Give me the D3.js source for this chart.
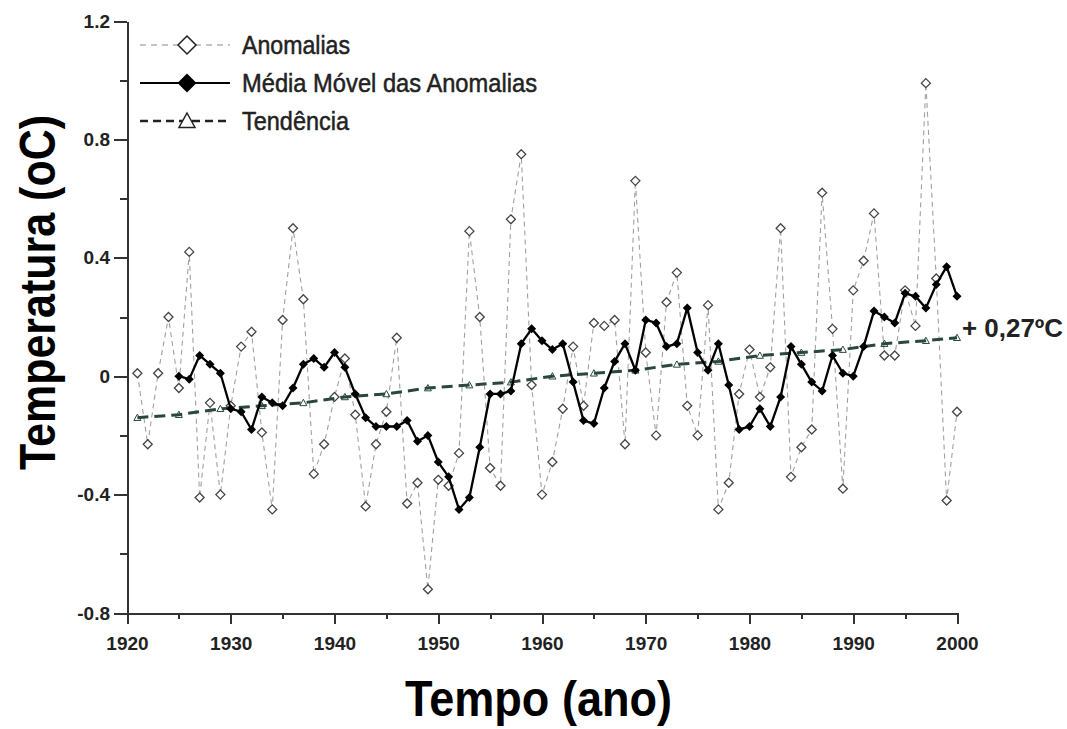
<!DOCTYPE html>
<html lang="pt">
<head>
<meta charset="utf-8">
<script src="https://cdn.jsdelivr.net/npm/d3@7"></script>
<style>
  html, body { margin: 0; padding: 0; background: #fff; }
  svg { display: block; font-family: "Liberation Sans", Arial, sans-serif; }
  .axis path, .axis line { stroke: #333; stroke-width: 2; shape-rendering: crispEdges; }
  .axis text { font-size: 19px; font-weight: bold; fill: #222; font-family: "Liberation Sans", Arial, sans-serif; }
</style>
</head>
<body>
<svg id="chart" width="1067" height="729"></svg>
<script>
// ─── Data ─────────────────────────────────────────────────────
const anomalyYears = d3.range(1921, 2001);
const anomalies = [
   0.01, -0.23,  0.01,  0.20, -0.04,  0.42, -0.41, -0.09, -0.40, -0.10, // 1921-1930
   0.10,  0.15, -0.19, -0.45,  0.19,  0.50,  0.26, -0.33, -0.23, -0.07, // 1931-1940
   0.06, -0.13, -0.44, -0.23, -0.12,  0.13, -0.43, -0.36, -0.72, -0.35, // 1941-1950
  -0.37, -0.26,  0.49,  0.20, -0.31, -0.37,  0.53,  0.75, -0.03, -0.40, // 1951-1960
  -0.29, -0.11,  0.10, -0.10,  0.18,  0.17,  0.19, -0.23,  0.66,  0.08, // 1961-1970
  -0.20,  0.25,  0.35, -0.10, -0.20,  0.24, -0.45, -0.36, -0.06,  0.09, // 1971-1980
  -0.07,  0.03,  0.50, -0.34, -0.24, -0.18,  0.62,  0.16, -0.38,  0.29, // 1981-1990
   0.39,  0.55,  0.07,  0.07,  0.29,  0.17,  0.99,  0.33, -0.42, -0.12  // 1991-2000
];

const movingYears = d3.range(1925, 2001);
const movingAvg = [
   0.00, -0.01,  0.07,  0.04,  0.01, -0.11,                             // 1925-1930
  -0.12, -0.18, -0.07, -0.09, -0.10, -0.04,  0.04,  0.06,  0.03,  0.08, // 1931-1940
   0.03, -0.06, -0.14, -0.17, -0.17, -0.17, -0.15, -0.22, -0.20, -0.29, // 1941-1950
  -0.34, -0.45, -0.41, -0.24, -0.06, -0.06, -0.05,  0.11,  0.16,  0.12, // 1951-1960
   0.09,  0.11, -0.02, -0.15, -0.16, -0.04,  0.05,  0.11,  0.02,  0.19, // 1961-1970
   0.18,  0.10,  0.11,  0.23,  0.08,  0.02,  0.11, -0.03, -0.18, -0.17, // 1971-1980
  -0.11, -0.17, -0.07,  0.10,  0.04, -0.02, -0.05,  0.07,  0.01,  0.00, // 1981-1990
   0.10,  0.22,  0.20,  0.18,  0.28,  0.27,  0.23,  0.31,  0.37,  0.27  // 1991-2000
];

const trendYears  = [1921, 1925, 1929, 1933, 1937, 1941, 1945, 1949, 1953, 1957, 1961,
                     1965, 1969, 1973, 1977, 1981, 1985, 1989, 1993, 1997, 2000];
const trendValues = [-0.14, -0.13, -0.11, -0.10, -0.09, -0.07, -0.06, -0.04, -0.03, -0.02, 0.00,
                      0.01,  0.02,  0.04,  0.05,  0.07,  0.08,  0.09,  0.11,  0.12,  0.13];

const xMajorTicks = [1920, 1930, 1940, 1950, 1960, 1970, 1980, 1990, 2000];
const xMinorTicks = [1925, 1935, 1945, 1955, 1965, 1975, 1985, 1995];
const yMajorTicks = [-0.8, -0.4, 0, 0.4, 0.8, 1.2];
const yMinorTicks = [-0.6, -0.2, 0.2, 0.6, 1.0];

const legendItems = ["Anomalias", "Média Móvel das Anomalias", "Tendência"];
const trendLabel = "+ 0,27ºC";

(() => {
  // ─── Setup ───────────────────────────────────────────────────
  const svg = d3.select("#chart");
  const x = d3.scaleLinear().domain([1920, 2000]).range([127, 957]);
  const y = d3.scaleLinear().domain([-0.8, 1.2]).range([613, 21]);

  const anomalyData = anomalyYears.map((yr, i) => ({ yr, v: anomalies[i] }));
  const movingData = movingYears.map((yr, i) => ({ yr, v: movingAvg[i] }));
  const trendData = trendYears.map((yr, i) => ({ yr, v: trendValues[i] }));

  const line = d3.line().x((d) => x(d.yr)).y((d) => y(d.v));
  const diamond = (r) => `M0,${-r}L${r},0L0,${r}L${-r},0Z`;
  const triangle = (r) => `M0,${-r}L${r},${r * 0.8}L${-r},${r * 0.8}Z`;

  // ─── Axes ────────────────────────────────────────────────────
  const fmtY = (d) => (d === 0 ? "0" : d.toFixed(1));

  svg.append("g").attr("class", "axis").attr("transform", `translate(${x(1920)},0)`)
    .call(d3.axisLeft(y).tickValues(yMinorTicks).tickSize(7).tickSizeOuter(0).tickFormat(""))
    .select(".domain").remove();
  svg.append("g").attr("class", "axis").attr("transform", `translate(${x(1920)},0)`)
    .call(d3.axisLeft(y).tickValues(yMajorTicks).tickSize(13).tickSizeOuter(0).tickPadding(4).tickFormat(fmtY));

  svg.append("g").attr("class", "axis").attr("transform", `translate(0,${y(-0.8)})`)
    .call(d3.axisBottom(x).tickValues(xMinorTicks).tickSize(6).tickSizeOuter(0).tickFormat(""))
    .select(".domain").remove();
  svg.append("g").attr("class", "axis").attr("transform", `translate(0,${y(-0.8)})`)
    .call(d3.axisBottom(x).tickValues(xMajorTicks).tickSize(11).tickSizeOuter(0).tickPadding(13).tickFormat(d3.format("d")));

  // ─── Anomalias ───────────────────────────────────────────────
  svg.append("path").datum(anomalyData)
    .attr("d", line)
    .attr("fill", "none")
    .attr("stroke", "#a0a0a0")
    .attr("stroke-width", 1.1)
    .attr("stroke-dasharray", "5,4");

  svg.append("g").selectAll("path")
    .data(anomalyData)
    .join("path")
    .attr("transform", (d) => `translate(${x(d.yr)},${y(d.v)})`)
    .attr("d", diamond(4.5))
    .attr("fill", "#fff")
    .attr("stroke", "#444")
    .attr("stroke-width", 1.3);

  // ─── Tendência ───────────────────────────────────────────────
  svg.append("path").datum(trendData)
    .attr("d", line)
    .attr("fill", "none")
    .attr("stroke", "#29473a")
    .attr("stroke-width", 3)
    .attr("stroke-dasharray", "11,6");

  svg.append("g").selectAll("path")
    .data(trendData)
    .join("path")
    .attr("transform", (d) => `translate(${x(d.yr)},${y(d.v)})`)
    .attr("d", triangle(3.5))
    .attr("fill", "none")
    .attr("stroke", "#29473a")
    .attr("stroke-width", 1);

  // ─── Média móvel ─────────────────────────────────────────────
  svg.append("path").datum(movingData)
    .attr("d", line)
    .attr("fill", "none")
    .attr("stroke", "#000")
    .attr("stroke-width", 2.3)
    .attr("stroke-linejoin", "round");

  svg.append("g").selectAll("path")
    .data(movingData)
    .join("path")
    .attr("transform", (d) => `translate(${x(d.yr)},${y(d.v)})`)
    .attr("d", diamond(4.5))
    .attr("fill", "#000");

  // ─── Trend label ─────────────────────────────────────────────
  svg.append("text")
    .attr("x", 962).attr("y", 337)
    .attr("font-size", 26).attr("font-weight", "bold").attr("fill", "#222")
    .attr("textLength", 101).attr("lengthAdjust", "spacingAndGlyphs")
    .text(trendLabel);

  // ─── Legend ──────────────────────────────────────────────────
  const legend = svg.append("g");
  const rowY = [45, 83, 121];
  const rowW = [108, 295, 107];

  legendItems.forEach((label, i) => {
    const g = legend.append("g").attr("transform", `translate(0,${rowY[i]})`);
    const ln = g.append("line").attr("x1", 140).attr("x2", 230).attr("y1", 0).attr("y2", 0);
    const mk = g.append("path").attr("transform", "translate(187,0)");
    if (i === 0) {
      ln.attr("stroke", "#8a8a8a").attr("stroke-width", 1.2).attr("stroke-dasharray", "6,5");
      mk.attr("d", diamond(9)).attr("fill", "#fff").attr("stroke", "#222").attr("stroke-width", 1.5);
    } else if (i === 1) {
      ln.attr("stroke", "#000").attr("stroke-width", 2.2);
      mk.attr("d", diamond(9.5)).attr("fill", "#000");
    } else {
      ln.attr("stroke", "#222").attr("stroke-width", 2.4).attr("stroke-dasharray", "8,5");
      mk.attr("d", triangle(8)).attr("fill", "#fff").attr("stroke", "#222").attr("stroke-width", 1.5);
    }
    g.append("text")
      .attr("x", 242).attr("y", 9)
      .attr("font-size", 26).attr("fill", "#222")
      .attr("stroke", "#222").attr("stroke-width", 0.5)
      .attr("textLength", rowW[i]).attr("lengthAdjust", "spacingAndGlyphs")
      .text(label);
  });

  // ─── Axis titles ─────────────────────────────────────────────
  svg.append("text")
    .attr("x", 405).attr("y", 716)
    .attr("font-size", 50).attr("font-weight", "bold").attr("fill", "#000")
    .attr("textLength", 267).attr("lengthAdjust", "spacingAndGlyphs")
    .text("Tempo (ano)");

  svg.append("text")
    .attr("transform", "translate(55,470) rotate(-90)")
    .attr("font-size", 50).attr("font-weight", "bold").attr("fill", "#000")
    .attr("textLength", 355).attr("lengthAdjust", "spacingAndGlyphs")
    .text("Temperatura (oC)");
})();
</script>
</body>
</html>
